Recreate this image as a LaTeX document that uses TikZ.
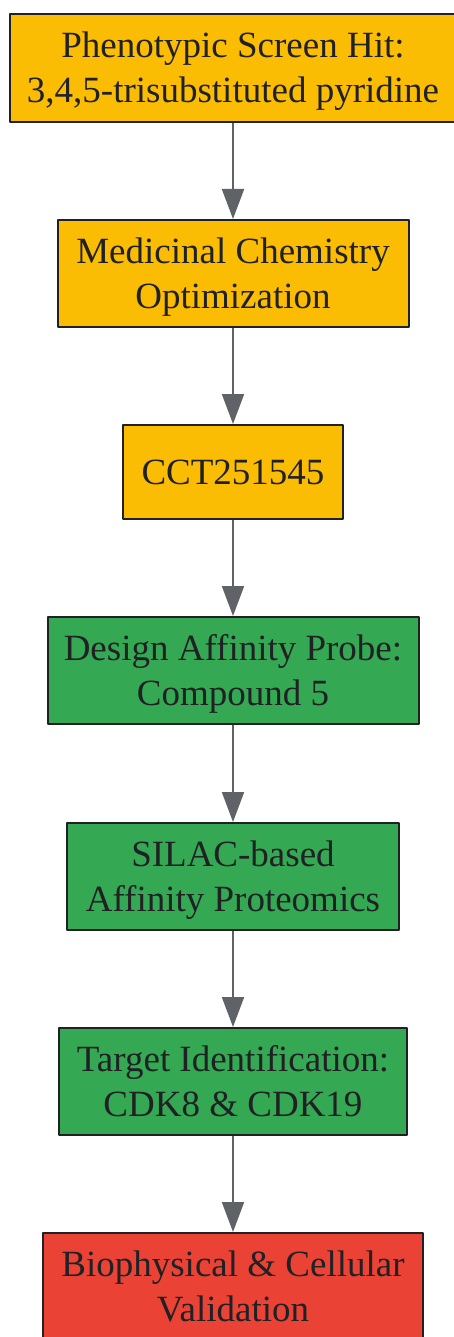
\documentclass[tikz,border=0pt]{standalone}
\usepackage{fontspec}
\setmainfont{Liberation Serif}
\usepackage{xcolor}
\usetikzlibrary{arrows.meta}
\definecolor{hitYellow}{HTML}{FBBC04}
\definecolor{probeGreen}{HTML}{34A853}
\definecolor{validRed}{HTML}{EA4335}
\definecolor{edgeGray}{HTML}{5F6368}
\definecolor{inkDark}{HTML}{202124}
% two text lines with even line boxes
\newcommand{\twolines}[2]{\rule{0pt}{35pt}#1\\#2\rule[-10pt]{0pt}{0pt}}

\begin{document}
\begin{tikzpicture}[x=1pt, y=-1pt, line join=round,
  stage/.style={draw=inkDark, line width=2pt, text=inkDark, align=center,
    inner sep=0pt, minimum height=107pt, font=\fontsize{37}{45}\selectfont},
  flow/.style={-{Triangle[length=30pt,width=22pt]}, edgeGray, line width=2pt}]
\useasboundingbox (0,0) rectangle (453,1337);
% Chemistry stages - yellow boxes
\node[stage, fill=hitYellow, minimum width=446pt, minimum height=108pt] (hit) at (233,68) {\twolines{Phenotypic Screen Hit:}{3,4,5-trisubstituted pyridine}};
\node[stage, fill=hitYellow, minimum width=351pt] (medchem) at (233,273.5) {\twolines{Medicinal Chemistry}{Optimization}};
\node[stage, fill=hitYellow, minimum width=220pt, minimum height=94pt] (cct) at (233,472) {CCT251545};
% Proteomics stages - green boxes
\node[stage, fill=probeGreen, minimum width=371pt] (probe) at (233,670.5) {\twolines{Design Affinity Probe:}{Compound 5}};
\node[stage, fill=probeGreen, minimum width=332pt] (silac) at (233,876.5) {\twolines{SILAC-based}{Affinity Proteomics}};
\node[stage, fill=probeGreen, minimum width=348pt] (target) at (233,1081.5) {\twolines{Target Identification:}{CDK8 \& CDK19}};
% Final stage - red box
\node[stage, fill=validRed, minimum width=380pt] (valid) at (233,1286.5) {\twolines{Biophysical \& Cellular}{Validation}};
% Arrows
\draw[flow] (hit) -- (medchem);
\draw[flow] (medchem) -- (cct);
\draw[flow] (cct) -- (probe);
\draw[flow] (probe) -- (silac);
\draw[flow] (silac) -- (target);
\draw[flow] (target) -- (valid);
\end{tikzpicture}
\end{document}
